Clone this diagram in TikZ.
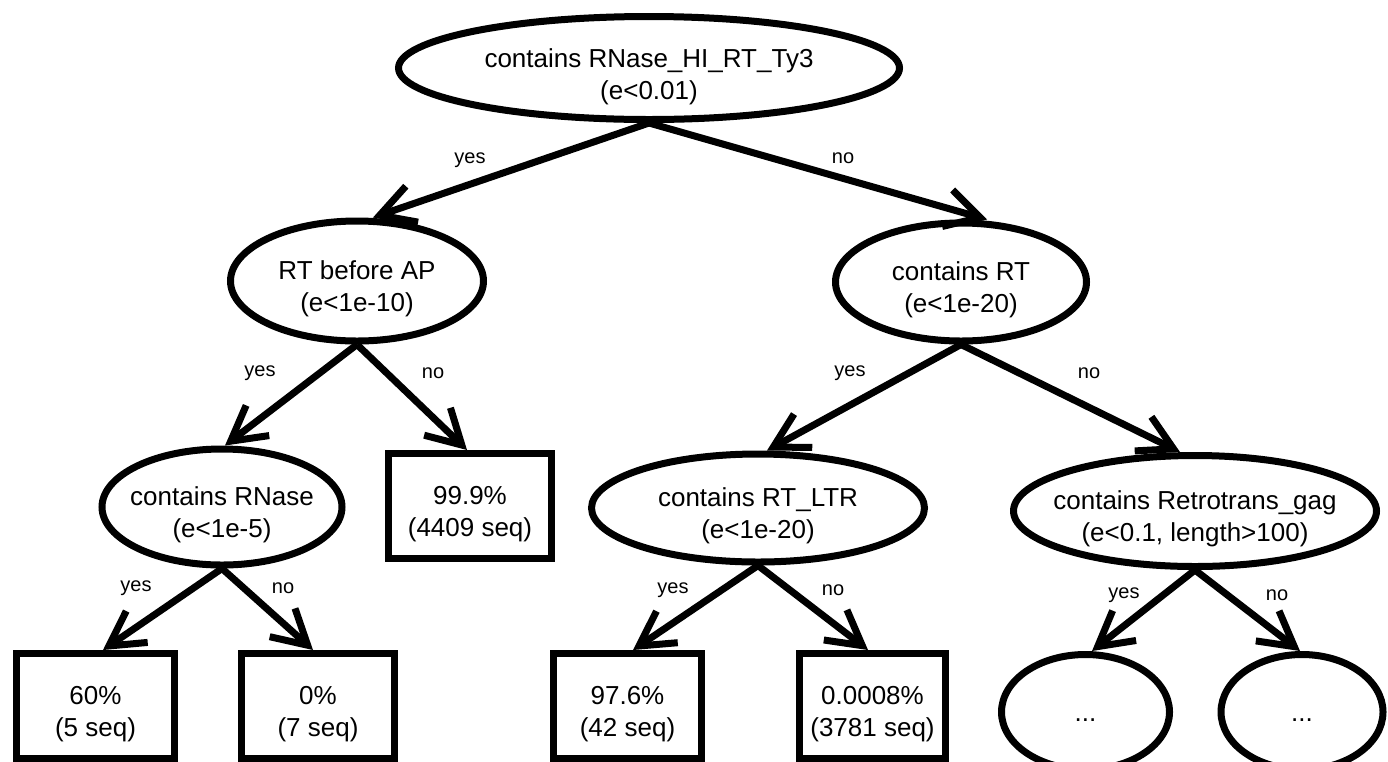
\documentclass[tikz,border=0pt]{standalone}
\usepackage{fontspec}
\setmainfont{Liberation Sans}
\usetikzlibrary{shapes.geometric,arrows.meta}
\begin{document}
\begin{tikzpicture}[x=1pt,y=-1pt,
  ell/.style={ellipse,draw,line width=7pt,inner sep=0pt},
  box/.style={rectangle,draw,line width=7pt,inner sep=0pt},
  txt/.style={align=center,inner sep=0pt,font=\fontsize{26pt}{32pt}\selectfont},
  lbl/.style={inner sep=0pt,font=\fontsize{20pt}{24pt}\selectfont},
  edge/.style={line width=7pt,-{Straight Barb[length=34pt,width=38pt]}}
]
\useasboundingbox (0,0) rectangle (1388,761);

% decision nodes
\node[ell,minimum width=501pt,minimum height=103pt] (root) at (649,68) {};
\node[txt] (rootT) at ([yshift=-9pt]root.center) {contains RNase\_HI\_RT\_Ty3\\(e<0.01)};

\node[ell,minimum width=253pt,minimum height=120pt] (rtap) at (357,281) {};
\node[txt] (rtapT) at ([yshift=-8pt]rtap.center) {RT before AP\\(e<1e-10)};

\node[ell,minimum width=251pt,minimum height=118pt] (crt) at (961,282) {};
\node[txt] (crtT) at ([yshift=-8pt]crt.center) {contains RT\\(e<1e-20)};

\node[ell,minimum width=240pt,minimum height=116pt] (crn) at (222,507) {};
\node[txt] (crnT) at ([yshift=-8pt]crn.center) {contains RNase\\(e<1e-5)};

\node[box,minimum width=163pt,minimum height=105pt] (b999) at (470,506) {};
\node[txt] (b999T) at ([yshift=-8pt]b999.center) {99.9\%\\(4409 seq)};

\node[ell,minimum width=333pt,minimum height=108pt] (ltr) at (758,508) {};
\node[txt] (ltrT) at ([yshift=-8pt]ltr.center) {contains RT\_LTR\\(e<1e-20)};

\node[ell,minimum width=363pt,minimum height=111pt] (gag) at (1195,511) {};
\node[txt] (gagT) at ([yshift=-8pt]gag.center) {contains Retrotrans\_gag\\(e<0.1, length>100)};

% leaves
\node[box,minimum width=158pt,minimum height=105pt] (b60) at (95.5,706) {};
\node[txt] (b60T) at ([yshift=-8pt]b60.center) {60\%\\(5 seq)};

\node[box,minimum width=153pt,minimum height=105pt] (b0) at (318,706) {};
\node[txt] (b0T) at ([yshift=-8pt]b0.center) {0\%\\(7 seq)};

\node[box,minimum width=148pt,minimum height=105pt] (b976) at (627.5,706) {};
\node[txt] (b976T) at ([yshift=-8pt]b976.center) {97.6\%\\(42 seq)};

\node[box,minimum width=146pt,minimum height=105pt] (b8) at (872.5,706) {};
\node[txt] (b8T) at ([yshift=-8pt]b8.center) {0.0008\%\\(3781 seq)};

\node[ell,minimum width=168pt,minimum height=115pt] (d1) at (1085.5,712) {};
\node[txt] (d1T) at ([yshift=-8pt]d1.center) {...};

\node[ell,minimum width=162pt,minimum height=115pt] (d2) at (1302,712) {};
\node[txt] (d2T) at ([yshift=-8pt]d2.center) {...};

% edges
\draw[edge] (root.south) -- ([xshift=16pt]rtap.north);
\draw[edge] (root.south) -- ([xshift=26pt]crt.north);
\draw[edge] (rtap.south) -- ([xshift=3pt]crn.north);
\draw[edge] (rtap.south) -- ([xshift=-3pt]b999.north);
\draw[edge] (crt.south) -- ([xshift=9pt]ltr.north);
\draw[edge] (crt.south) -- ([xshift=-15pt]gag.north);
\draw[edge] (crn.south) -- ([xshift=7.5pt]b60.north);
\draw[edge] (crn.south) -- ([xshift=-5pt]b0.north);
\draw[edge] (ltr.south) -- ([xshift=5.5pt]b976.north);
\draw[edge] (ltr.south) -- ([xshift=-4.5pt]b8.north);
\draw[edge] (gag.south) -- ([xshift=6.5pt]d1.north);
\draw[edge] (gag.south) -- ([xshift=-2pt]d2.north);

% edge labels
\node[lbl] (l1) at (470,160) {yes};
\node[lbl] (l2) at (843,158) {no};
\node[lbl] (l3) at (260,373) {yes};
\node[lbl] (l4) at (433,373) {no};
\node[lbl] (l5) at (850,373) {yes};
\node[lbl] (l6) at (1089,373) {no};
\node[lbl] (l7) at (136,588) {yes};
\node[lbl] (l8) at (283,588) {no};
\node[lbl] (l9) at (673,590) {yes};
\node[lbl] (l10) at (833,590) {no};
\node[lbl] (l11) at (1124,595) {yes};
\node[lbl] (l12) at (1277,595) {no};
\end{tikzpicture}
\end{document}
